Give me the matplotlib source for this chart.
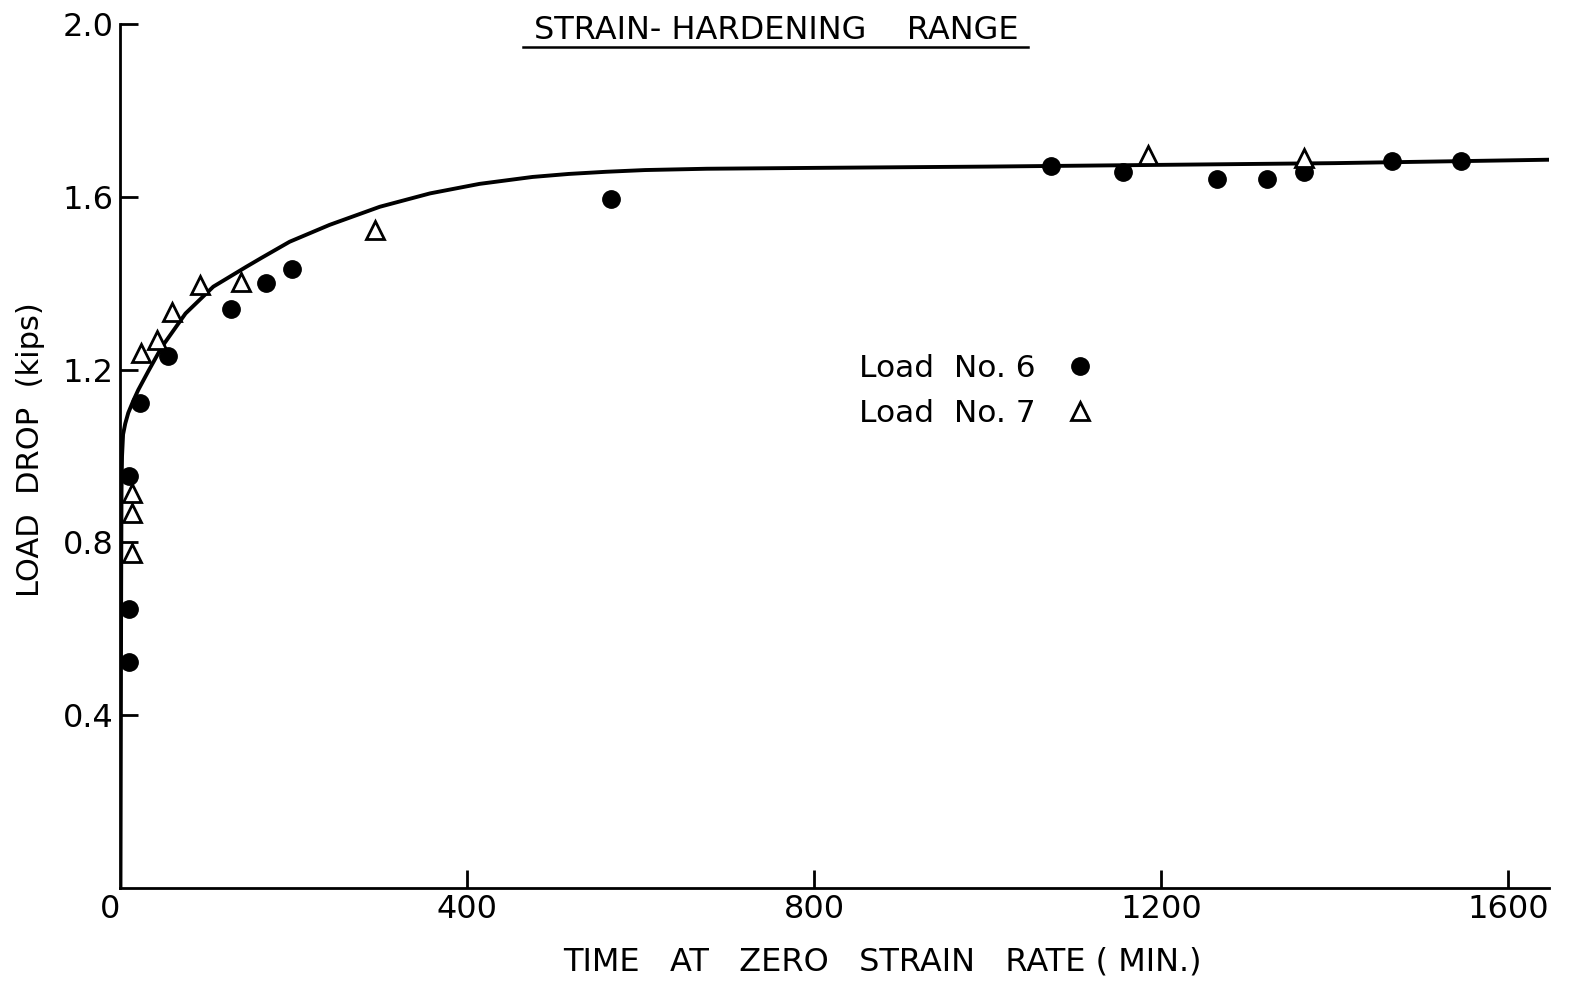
import numpy as np
import matplotlib
matplotlib.use('Agg')
import matplotlib.pyplot as plt
from matplotlib.lines import Line2D

plt.rcParams['font.family'] = ['DejaVu Sans']
plt.rcParams['font.size'] = 18

# Load No. 6 (filled circles)
t6 = [10, 10, 10, 22, 55, 128, 168, 198, 566, 1073, 1156, 1264, 1322, 1365, 1466, 1545]
p6 = [0.524, 0.647, 0.954, 1.123, 1.231, 1.340, 1.401, 1.434, 1.596, 1.672, 1.658,
      1.642, 1.642, 1.658, 1.683, 1.683]

# Load No. 7 (open triangles)
t7 = [13, 13, 13, 24, 42, 59, 92, 139, 293, 1185, 1365]
p7 = [0.914, 0.867, 0.775, 1.238, 1.269, 1.333, 1.396, 1.403, 1.523, 1.697, 1.690]

# fitted curve
tc = [0, 0.8, 1.2, 1.8, 3, 5.5, 9, 14.8, 20.5, 32, 47.5, 75, 107, 145, 162, 195, 241,
      299, 357, 414, 475, 517, 560, 605, 676, 800, 1000, 1200, 1400, 1650]
pc = [0.0, 0.7, 0.92, 1.0, 1.05, 1.075, 1.100, 1.128, 1.153, 1.196, 1.252, 1.330,
      1.392, 1.438, 1.458, 1.496, 1.535, 1.577, 1.608, 1.630, 1.646, 1.653, 1.658,
      1.662, 1.665, 1.667, 1.670, 1.674, 1.678, 1.686]

xticks = [0, 400, 800, 1200, 1600]
yticks = [0.4, 0.8, 1.2, 1.6, 2.0]

fig = plt.figure(figsize=(15.79, 9.81), dpi=100)
ax = fig.add_axes([0.0763, 0.0948, 0.9047, 0.8807])

ax.plot(tc, pc, color='black', lw=2.8, solid_capstyle='round', solid_joinstyle='round',
        zorder=2)
ax.plot(t6, p6, 'o', color='black', ms=12.5, ls='none', label='Load  No. 6', zorder=3)
ax.plot(t7, p7, '^', mfc='white', mec='black', mew=2, ms=12.5, ls='none',
        label='Load  No. 7', zorder=3)

ax.set_xlim(0, 1647)
ax.set_ylim(0, 2.0)
ax.set_xticks(xticks)
ax.set_yticks(yticks)
ax.set_yticklabels(['0.4', '0.8', '1.2', '1.6', '2.0'])
for s in ['top', 'right']:
    ax.spines[s].set_visible(False)
for s in ['left', 'bottom']:
    ax.spines[s].set_linewidth(2)
ax.tick_params(axis='both', direction='in', length=13, width=2, labelsize=23)
ax.tick_params(axis='x', pad=4)
ax.tick_params(axis='y', pad=5)
ax.xaxis.get_major_ticks()[0].tick1line.set_visible(False)
ax.get_xticklabels()[0].set_ha('right')

fig.text(0.559, 0.019, 'TIME   AT   ZERO   STRAIN   RATE ( MIN.)', ha='center',
         va='center', fontsize=23)
fig.text(0.019, 0.542, 'LOAD  DROP  (kips)', ha='center', va='center', rotation=90,
         fontsize=22)
fig.text(0.4916, 0.969, 'STRAIN- HARDENING    RANGE', ha='center', va='center',
         fontsize=23)
fig.add_artist(Line2D([0.331, 0.651], [0.952, 0.952], color='black', lw=1.8))

ax.legend(loc='upper left', bbox_to_anchor=(0.5265, 0.668), bbox_transform=fig.transFigure,
          markerfirst=False, frameon=False, fontsize=22.5, handlelength=1.2,
          handletextpad=0.79, labelspacing=0.52)

fig.savefig('out.png', dpi=100)
